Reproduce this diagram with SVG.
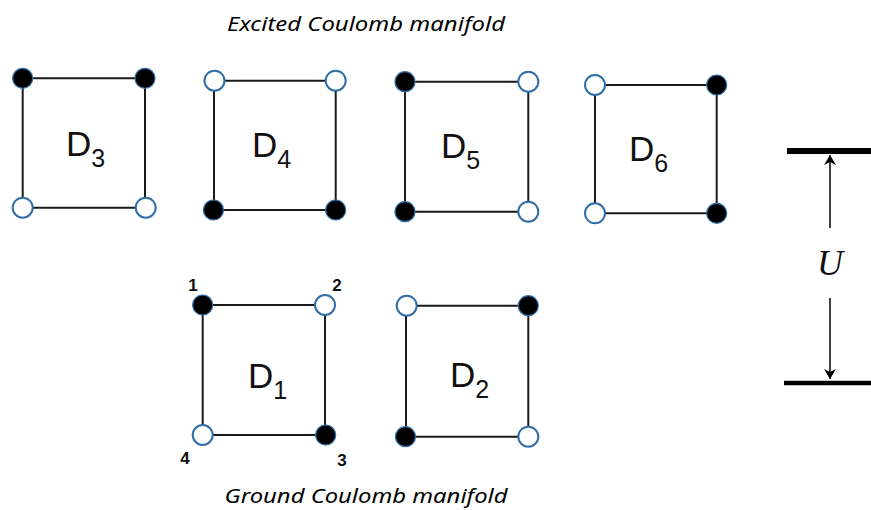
<svg xmlns="http://www.w3.org/2000/svg" width="871" height="510" viewBox="0 0 871 510">
<defs>
<style>
.edge{fill:none;stroke:#1a1a1a;stroke-width:2}
.e{fill:#ffffff;stroke:#2f6ea8;stroke-width:2}
.f{fill:#000000;stroke:#2f6ea8;stroke-width:1.2}
.lbl{font-family:"Liberation Sans",Arial,sans-serif;font-size:35px;fill:#111}
.sub{font-size:25px}
.num{font-family:"Liberation Sans",Arial,sans-serif;font-size:17px;font-weight:bold;fill:#111}
.cap{font-family:"Noto Sans","Liberation Sans",sans-serif;font-style:italic;font-size:20px;fill:#000}
.bar{stroke:#000;fill:none}
</style>
<marker id="ah" viewBox="0 0 10 12" refX="10" refY="6" markerWidth="10" markerHeight="12" markerUnits="userSpaceOnUse" orient="auto">
<path d="M0,0 L10,6 L0,12 L3,6 Z" fill="#000"/>
</marker>
</defs>
<rect width="871" height="510" fill="#ffffff"/>

<text class="cap" x="366" y="31" text-anchor="middle" textLength="278" lengthAdjust="spacingAndGlyphs">Excited Coulomb manifold</text>
<text class="cap" x="366" y="503" text-anchor="middle" textLength="283" lengthAdjust="spacingAndGlyphs">Ground Coulomb manifold</text>

<g id="D3">
<path class="edge" d="M22.7,78.3 H145 V207.7 H22.7 Z"/>
<circle class="f" cx="22.7" cy="78.3" r="10"/>
<circle class="f" cx="145" cy="78.3" r="10"/>
<circle class="e" cx="22.7" cy="207.7" r="10"/>
<circle class="e" cx="145.7" cy="207.7" r="10"/>
<text class="lbl" x="66" y="156">D<tspan class="sub" dy="11">3</tspan></text>
</g>

<g id="D4">
<path class="edge" d="M214,80.7 H335.7 V210 H214 Z"/>
<circle class="e" cx="214.5" cy="80.7" r="10"/>
<circle class="e" cx="335.7" cy="80.7" r="10"/>
<circle class="f" cx="213.5" cy="210" r="10"/>
<circle class="f" cx="335.7" cy="210" r="10"/>
<text class="lbl" x="252" y="157">D<tspan class="sub" dy="11">4</tspan></text>
</g>

<g id="D5">
<path class="edge" d="M405,81.7 H528.3 V211.7 H405 Z"/>
<circle class="f" cx="405" cy="81.7" r="10"/>
<circle class="e" cx="528.3" cy="81.7" r="10"/>
<circle class="f" cx="405" cy="211.7" r="10"/>
<circle class="e" cx="528.3" cy="211.7" r="10"/>
<text class="lbl" x="441" y="158">D<tspan class="sub" dy="11">5</tspan></text>
</g>

<g id="D6">
<path class="edge" d="M595,85 H716.7 V213.3 H595 Z"/>
<circle class="e" cx="595" cy="85" r="10"/>
<circle class="f" cx="716.7" cy="85" r="10"/>
<circle class="e" cx="595" cy="213.3" r="10"/>
<circle class="f" cx="716.7" cy="213.3" r="10"/>
<text class="lbl" x="629" y="161">D<tspan class="sub" dy="11">6</tspan></text>
</g>

<g id="D1">
<path class="edge" d="M202.7,305 H325 V435 H202.7 Z"/>
<circle class="f" cx="202.7" cy="305" r="10"/>
<circle class="e" cx="325" cy="305" r="10"/>
<circle class="e" cx="202.7" cy="435" r="10"/>
<circle class="f" cx="325.7" cy="435" r="10"/>
<text class="lbl" x="248" y="388">D<tspan class="sub" dy="11">1</tspan></text>
<text class="num" x="193" y="291" text-anchor="middle">1</text>
<text class="num" x="337" y="291" text-anchor="middle">2</text>
<text class="num" x="342" y="466" text-anchor="middle">3</text>
<text class="num" x="185" y="464" text-anchor="middle">4</text>
</g>

<g id="D2">
<path class="edge" d="M406,305.7 H528.3 V436.7 H406 Z"/>
<circle class="e" cx="406.7" cy="305.7" r="10"/>
<circle class="f" cx="528.3" cy="305.7" r="10"/>
<circle class="f" cx="405.5" cy="436.7" r="10"/>
<circle class="e" cx="528.3" cy="436.7" r="10"/>
<text class="lbl" x="450" y="387">D<tspan class="sub" dy="11">2</tspan></text>
</g>

<g id="energy">
<line class="bar" x1="787" y1="151" x2="871" y2="151" stroke-width="6"/>
<line class="bar" x1="784" y1="383" x2="871" y2="383" stroke-width="4.5"/>
<text x="830" y="275" text-anchor="middle" font-family="'Liberation Serif','Times New Roman',serif" font-style="italic" font-size="36" fill="#111">U</text>
</g>

<g id="connectors">
<line x1="830" y1="228" x2="830" y2="155" stroke="#000" stroke-width="1.5" marker-end="url(#ah)"/>
<line x1="830" y1="298" x2="830" y2="379" stroke="#000" stroke-width="1.5" marker-end="url(#ah)"/>
</g>
</svg>
